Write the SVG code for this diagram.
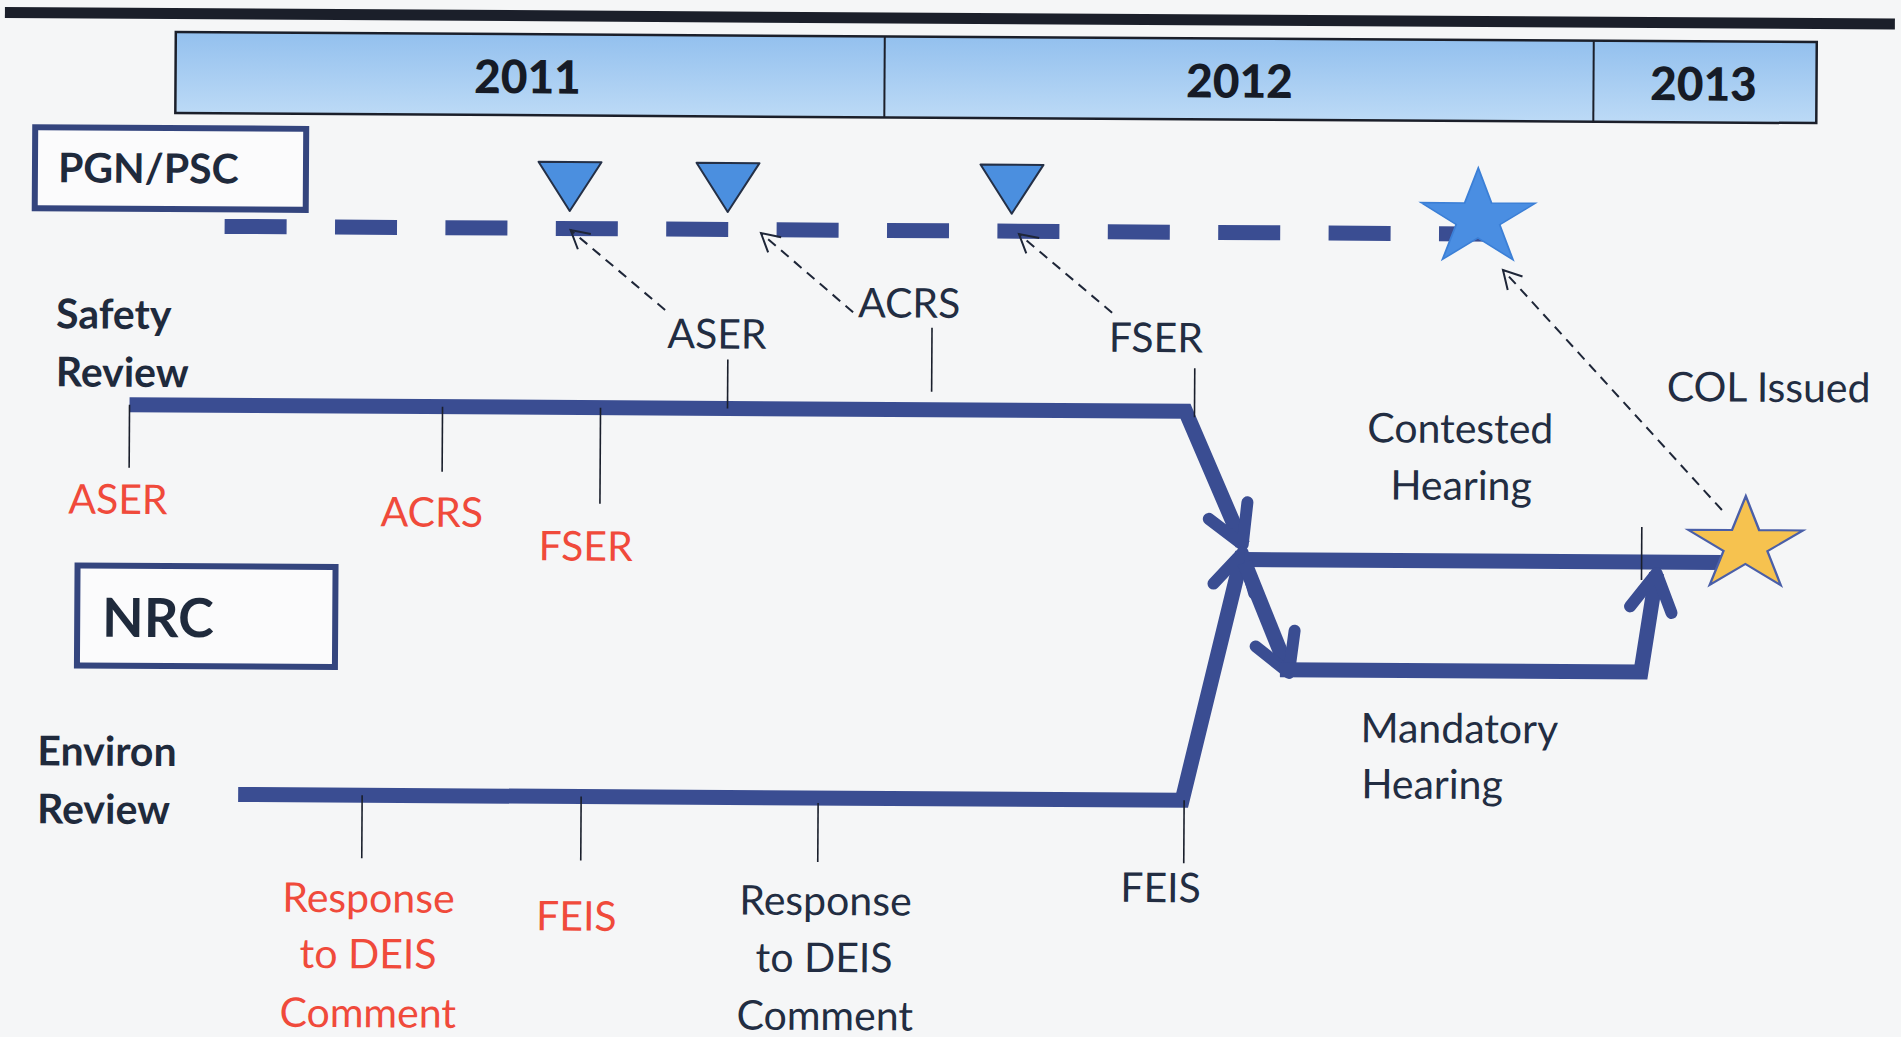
<svg xmlns="http://www.w3.org/2000/svg" width="1901" height="1037" viewBox="0 0 1901 1037">
<defs>
<style>
.t{font-family:Lato,"Open Sans","Liberation Sans",sans-serif;}
.b{font-weight:700;fill:#1f2a3c;}
.yr{font-size:46px;text-anchor:middle;font-weight:900;fill:#161b26;}
.hd{font-size:41px;}
.lbl{font-size:41px;fill:#222d42;}
.red{font-size:41px;fill:#f04a3b;}
.mid{text-anchor:middle;}
.track{fill:none;stroke:#3a4d92;stroke-width:15;}
.tick{stroke:#1a1f2c;stroke-width:1.6;}
.dash{fill:none;stroke:#1e2638;stroke-width:2;stroke-dasharray:10 7;}
.box{fill:#fbfbfc;stroke:#34457e;stroke-width:6;}
.tri{fill:#4b8fdf;stroke:#243047;stroke-width:2;stroke-linejoin:round;}
</style>
<linearGradient id="yg" x1="0" y1="0" x2="0" y2="1">
<stop offset="0" stop-color="#93c0ee"/>
<stop offset="1" stop-color="#bcdaf6"/>
</linearGradient>
<marker id="big" markerUnits="userSpaceOnUse" viewBox="-60 -40 80 80" markerWidth="80" markerHeight="80" refX="0" refY="0" orient="auto" overflow="visible">
<path d="M-37,-21 L0,0 L-37,21" fill="none" stroke="#3a4d92" stroke-width="12" stroke-linecap="round" stroke-linejoin="round"/>
</marker>
<marker id="sm" markerUnits="userSpaceOnUse" viewBox="-30 -20 40 40" markerWidth="40" markerHeight="40" refX="0" refY="0" orient="auto" overflow="visible">
<path d="M-18,-10 L0,0 L-18,10" fill="none" stroke="#1e2638" stroke-width="2"/>
</marker>
<path id="star" d="M0,-50 L11.23,-15.45 L47.55,-15.45 L18.16,5.9 L29.39,40.45 L0,19.1 L-29.39,40.45 L-18.16,5.9 L-47.55,-15.45 L-11.23,-15.45 Z"/>
</defs>
<rect x="0" y="0" width="1901" height="1037" fill="#f5f6f7"/>
<g transform="rotate(0.35)">
<line x1="5" y1="12.5" x2="1895" y2="12.5" stroke="#1b1f2a" stroke-width="11"/>
<g id="years">
<rect x="176" y="31" width="1641" height="81" fill="url(#yg)" stroke="#1b1f2a" stroke-width="2.5"/>
<line x1="885" y1="31" x2="885" y2="112" stroke="#1b1f2a" stroke-width="2"/>
<line x1="1594" y1="31" x2="1594" y2="112" stroke="#1b1f2a" stroke-width="2"/>
<text class="t yr" x="528" y="90">2011</text>
<text class="t yr" x="1240" y="90">2012</text>
<text class="t yr" x="1704" y="90">2013</text>
</g>
<g id="pgn">
<rect class="box" x="36" y="127" width="271" height="81"/>
<text class="t b" x="59" y="182" font-size="41">PGN/PSC</text>
</g>
<g id="nrc">
<rect class="box" x="81" y="565" width="258" height="100"/>
<text class="t b" x="106" y="636" font-size="54">NRC</text>
</g>
<g id="safety-label">
<text class="t b hd" x="58" y="328">Safety</text>
<text class="t b hd" x="58" y="386">Review</text>
</g>
<g id="environ-label">
<text class="t b hd" x="42" y="765">Environ</text>
<text class="t b hd" x="42" y="823">Review</text>
</g>
<g id="connectors">
<line class="track" x1="226" y1="225" x2="1501" y2="225" stroke-width="16" stroke-dasharray="62 48.4"/>
<path class="track" d="M132,404 H1188 L1246,537" marker-end="url(#big)"/>
<path class="track" d="M243,793 H1187 L1246,545" marker-end="url(#big)"/>
<path class="track" d="M1248,552 H1725"/>
<path class="track" d="M1248,555 L1293,665" marker-end="url(#big)"/>
<path class="track" d="M1284,662 H1645 L1660,563" marker-end="url(#big)"/>
<line class="tick" x1="132" y1="404" x2="132" y2="467"/>
<line class="tick" x1="445" y1="404" x2="445" y2="469"/>
<line class="tick" x1="603" y1="404" x2="603" y2="500"/>
<line class="tick" x1="730" y1="355" x2="730" y2="404"/>
<line class="tick" x1="934" y1="322" x2="934" y2="386"/>
<line class="tick" x1="1197" y1="361" x2="1197" y2="410"/>
<line class="tick" x1="367" y1="793" x2="367" y2="856"/>
<line class="tick" x1="586" y1="793" x2="586" y2="857"/>
<line class="tick" x1="823" y1="798" x2="823" y2="857"/>
<line class="tick" x1="1189" y1="793" x2="1189" y2="856"/>
<line class="tick" x1="1645" y1="517" x2="1645" y2="570"/>
<path class="dash" d="M667,306 L572,226.5" marker-end="url(#sm)"/>
<path class="dash" d="M855,307 L762.4,228.4" marker-end="url(#sm)"/>
<path class="dash" d="M1114,306 L1020.4,227.8" marker-end="url(#sm)"/>
<path class="dash" d="M1725,499.5 L1504.6,260.8" marker-end="url(#sm)"/>
</g>
<g id="milestones">
<polygon class="tri" points="539.5,158.5 602.5,158.5 571,207.5"/>
<polygon class="tri" points="697.5,158.5 760.5,158.5 729,207.5"/>
<polygon class="tri" points="981.5,158.5 1044.5,158.5 1013,207.5"/>
</g>
<g id="blue-star">
<use href="#star" transform="translate(1479.3,209.6) scale(1.2,1.012)" fill="#4a8ee2" stroke="#3b7fd6" stroke-width="1.5" vector-effect="non-scaling-stroke"/>
</g>
<g id="gold-star">
<use href="#star" transform="translate(1748.8,534.6) scale(1.21,0.984)" fill="#f6c24f" stroke="#4a5fa8" stroke-width="2" vector-effect="non-scaling-stroke"/>
</g>
<g id="labels">
<text class="t red mid" x="121" y="513">ASER</text>
<text class="t red mid" x="435" y="524">ACRS</text>
<text class="t red mid" x="589" y="557">FSER</text>
<text class="t lbl mid" x="719" y="344">ASER</text>
<text class="t lbl mid" x="911" y="312">ACRS</text>
<text class="t lbl mid" x="1158" y="345">FSER</text>
<text class="t lbl mid" x="1771" y="391">COL Issued</text>
<text class="t lbl mid" x="1463" y="434">Contested</text>
<text class="t lbl mid" x="1464" y="491">Hearing</text>
<text class="t lbl" x="1365" y="734">Mandatory</text>
<text class="t lbl" x="1366" y="790">Hearing</text>
<text class="t red mid" x="374" y="910">Response</text>
<text class="t red mid" x="374" y="966">to DEIS</text>
<text class="t red mid" x="374" y="1025">Comment</text>
<text class="t red mid" x="582" y="927">FEIS</text>
<text class="t lbl mid" x="831" y="910">Response</text>
<text class="t lbl mid" x="830" y="967">to DEIS</text>
<text class="t lbl mid" x="831" y="1025">Comment</text>
<text class="t lbl mid" x="1166" y="895">FEIS</text>
</g>
</g>
</svg>
